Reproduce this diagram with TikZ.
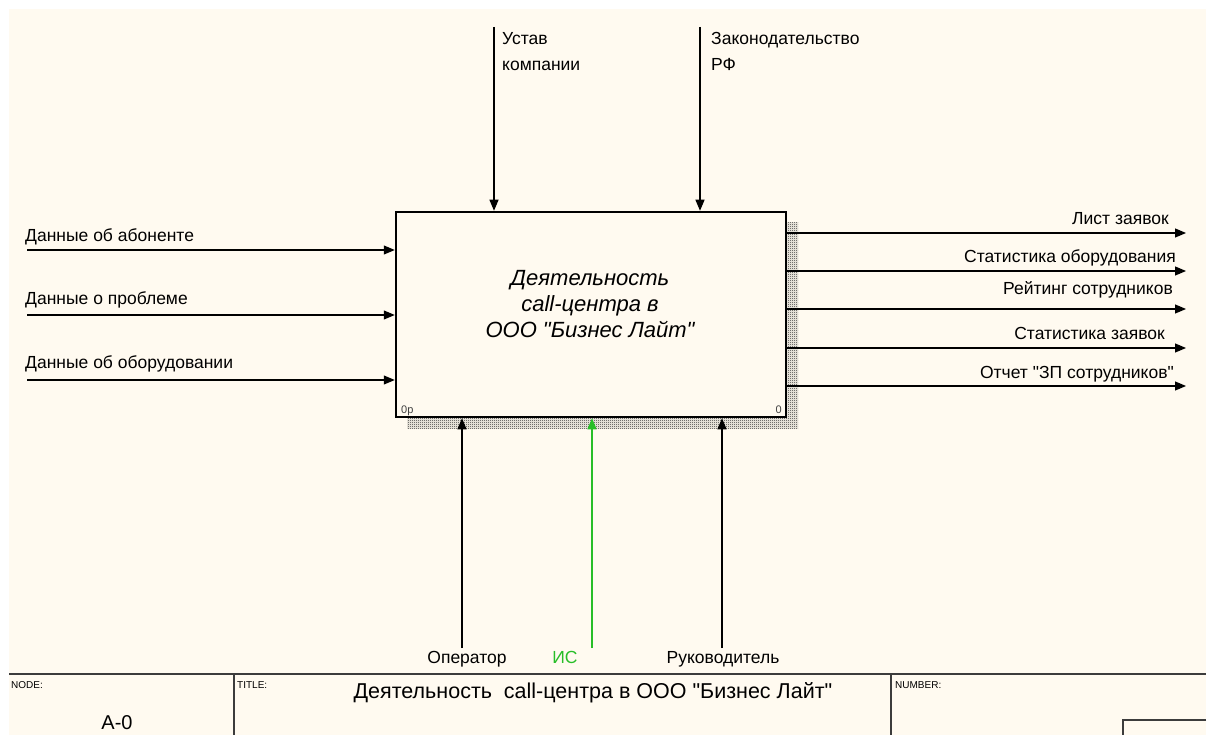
\documentclass[tikz,border=0pt]{standalone}
\usepackage{fontspec}
\defaultfontfeatures{}
\setmainfont{Liberation Sans}[Ligatures=TeXOff]
\usetikzlibrary{arrows.meta,patterns}
\definecolor{paper}{RGB}{255,250,240}
\definecolor{isgreen}{RGB}{40,190,40}
\definecolor{frame}{RGB}{60,60,60}

% fine one-unit checkerboard used for the box shadow
\pgfdeclarepatternformonly{checker}{\pgfpointorigin}{\pgfpoint{2pt}{2pt}}{\pgfpoint{2pt}{2pt}}{%
  \pgfpathrectangle{\pgfpointorigin}{\pgfpoint{1pt}{1pt}}%
  \pgfpathrectangle{\pgfpoint{1pt}{1pt}}{\pgfpoint{1pt}{1pt}}%
  \pgfusepath{fill}}

\begin{document}
\begin{tikzpicture}[x=1pt,y=-1pt,
  flow/.style={line width=1.2pt,-{Triangle[length=11pt,width=9pt]}},
  lbl/.style={font=\fontsize{17.5}{20}\selectfont, inner sep=0pt},
  tiny/.style={font=\fontsize{10}{12}\selectfont, inner sep=0pt, anchor=base west},
  rule/.style={draw=frame, line width=2pt}
]
\useasboundingbox (0,0) rectangle (1213,735);
\fill[paper] (9,9) rectangle (1206,735);

% shadow of the activity box
\fill[pattern=checker, pattern color=black!85] (407,223) rectangle (798,428);

% activity box
\node[draw, line width=2.5pt, fill=paper, minimum width=390pt, minimum height=205pt,
      inner sep=0pt] (act) at (591,314.5) {};
\node[font=\fontsize{22}{26}\selectfont\itshape, align=center, inner sep=0pt]
  (acttext) at (590,304) {Деятельность\\ call-центра в\\ООО "Бизнес Лайт"};
\node[font=\fontsize{11}{11}\selectfont, anchor=base west, inner sep=0pt, text=black!75]
  (cost) at (401,413) {0р};
\node[font=\fontsize{11}{11}\selectfont, anchor=base east, inner sep=0pt, text=black!75]
  (num) at (782,413) {0};

% inputs
\coordinate (i1) at (27,250);
\coordinate (i2) at (27,315);
\coordinate (i3) at (27,380);
\draw[flow] (i1) -- (i1 -| act.west);
\draw[flow] (i2) -- (i2 -| act.west);
\draw[flow] (i3) -- (i3 -| act.west);
\node[lbl, anchor=base west] (li1) at (25,242) {Данные об абоненте};
\node[lbl, anchor=base west] (li2) at (25,305) {Данные о проблеме};
\node[lbl, anchor=base west] (li3) at (25,368) {Данные об оборудовании};

% controls
\coordinate (c1) at (494,27);
\coordinate (c2) at (700,27);
\draw[flow] (c1) -- (c1 |- act.north);
\draw[flow] (c2) -- (c2 |- act.north);
\node[lbl, anchor=base west] (lc1a) at (502,45) {Устав};
\node[lbl, anchor=base west] (lc1b) at (502,71) {компании};
\node[lbl, anchor=base west] (lc2a) at (711,45) {Законодательство};
\node[lbl, anchor=base west] (lc2b) at (711,71) {РФ};

% outputs
\coordinate (o1) at (1186,233);
\coordinate (o2) at (1186,271);
\coordinate (o3) at (1186,309);
\coordinate (o4) at (1186,348);
\coordinate (o5) at (1186,386);
\draw[flow] (o1 -| act.east) -- (o1);
\draw[flow] (o2 -| act.east) -- (o2);
\draw[flow] (o3 -| act.east) -- (o3);
\draw[flow] (o4 -| act.east) -- (o4);
\draw[flow] (o5 -| act.east) -- (o5);
\node[lbl, anchor=base east] (lo1) at (1169,225) {Лист заявок};
\node[lbl, anchor=base east] (lo2) at (1176,263) {Статистика оборудования};
\node[lbl, anchor=base east] (lo3) at (1173,295) {Рейтинг сотрудников};
\node[lbl, anchor=base east] (lo4) at (1165,340) {Статистика заявок};
\node[lbl, anchor=base east] (lo5) at (1174,378) {Отчет "ЗП сотрудников"};

% mechanisms
\coordinate (m1) at (462,648);
\coordinate (m2) at (592,648);
\coordinate (m3) at (722,648);
\draw[flow] (m1) -- (m1 |- act.south);
\draw[flow, draw=isgreen, fill=isgreen] (m2) -- (m2 |- act.south);
\draw[flow] (m3) -- (m3 |- act.south);
\node[lbl, anchor=base] (lm1) at (467,663) {Оператор};
\node[lbl, anchor=base, text=isgreen] (lm2) at (565,663) {ИС};
\node[lbl, anchor=base] (lm3) at (723,663) {Руководитель};

% title block
\draw[rule] (9,674) -- (1206,674);
\draw[draw=frame, line width=1.5pt] (234,674) -- (234,735);
\draw[draw=frame, line width=1.5pt] (891,674) -- (891,735);
\draw[rule] (1206,720) -- (1123,720) -- (1123,735);
\node[tiny] (tnode) at (11,688) {NODE:};
\node[tiny] (ttitle) at (237,688) {TITLE:};
\node[tiny] (tnumber) at (895,688) {NUMBER:};
\node[font=\fontsize{20}{24}\selectfont, anchor=base, inner sep=0pt] (tnodeval) at (117,729) {A-0};
\node[font=\fontsize{21.5}{24}\selectfont, anchor=base, inner sep=0pt] (ttitleval) at (593,698)
  {Деятельность\ \ call-центра в ООО "Бизнес Лайт"};
\end{tikzpicture}
\end{document}
